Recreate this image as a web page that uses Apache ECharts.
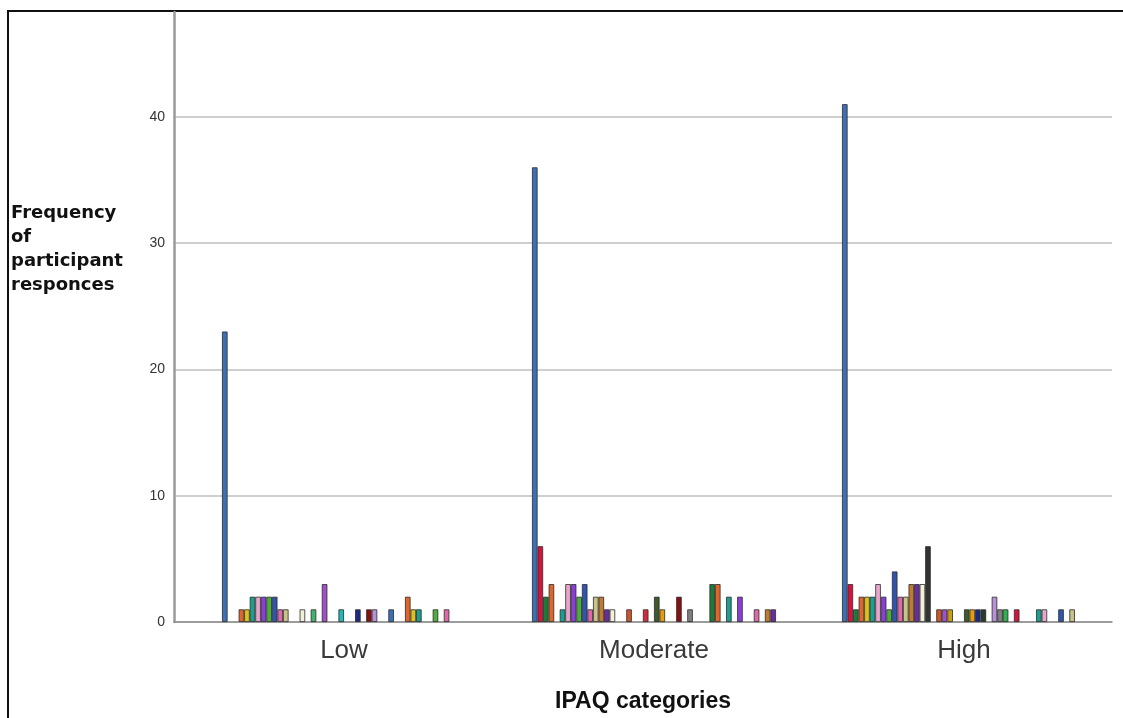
<!DOCTYPE html>
<html>
<head>
<meta charset="utf-8">
<script src="https://cdn.jsdelivr.net/npm/echarts@6/dist/echarts.min.js"></script>
<style>
  html, body { margin: 0; padding: 0; background: #fff; }
  #chart { width: 1123px; height: 718px; }
</style>
</head>
<body>
<div id="chart"></div>
<script>
// IPAQ categories on the x axis
const categories = ['Low', 'Moderate', 'High']

// one value per response series (44 series)
const lowCounts = [23, 0, 0, 1, 1, 2, 2, 2, 2, 2, 1, 1, 0, 0, 1, 0, 1, 0, 3, 0, 0, 1, 0, 0, 1, 0, 1, 1, 0, 0, 1, 0, 0, 2, 1, 1, 0, 0, 1, 0, 1, 0, 0, 0]
const moderateCounts = [36, 6, 2, 3, 0, 1, 3, 3, 2, 3, 1, 2, 2, 1, 1, 0, 0, 1, 0, 0, 1, 0, 2, 1, 0, 0, 2, 0, 1, 0, 0, 0, 3, 3, 0, 2, 0, 2, 0, 0, 1, 0, 1, 1]
const highCounts = [41, 3, 1, 2, 2, 2, 3, 2, 1, 4, 2, 2, 3, 3, 3, 6, 0, 1, 1, 1, 0, 0, 1, 1, 1, 1, 0, 2, 1, 1, 0, 1, 0, 0, 0, 1, 1, 0, 0, 1, 0, 1, 0, 0]

// y axis ticks
const yTicks = [0, 10, 20, 30, 40]

// colour cycle (repeats every 30 series)
const palette = [
  '#3d6fb6', '#d4143c', '#1f7a38', '#e0652a', '#dcc21a', '#1a9e8e',
  '#e8a6cc', '#8b3fd9', '#4caf3a', '#2f55b0', '#e06aa8', '#c9c28a',
  '#c27a2e', '#6b2d9e', '#f2f0d8', '#333333', '#3db56b', '#d0552a',
  '#a050c8', '#c8a010', '#d42a3a', '#20b8b8', '#3f5a2a', '#e89a10',
  '#1a2a80', '#2a3a2a', '#8a1010', '#b890d8', '#808080', '#30b050'
]

const chart = echarts.init(document.getElementById('chart'))

// 把每个序列的三个值组装起来
const series = lowCounts.map((v, i) => ({
  name: 'r' + (i + 1),
  type: 'bar',
  xAxisIndex: 1,
  yAxisIndex: 1,
  barGap: '0%',
  barCategoryGap: '21.3%',
  itemStyle: {
    color: palette[i % palette.length],
    borderColor: '#2b2b2b',
    borderWidth: 0.8
  },
  data: [v, moderateCounts[i], highCounts[i]].map((d) => (d === 0 ? '-' : d))
}))

const yMax = 48.3

const option = {
  animation: false,
  backgroundColor: '#fff',
  grid: [
    // axes frame
    { left: 174, right: 11, top: 12, bottom: 96, outerBoundsMode: 'none', containLabel: false },
    // bars
    { left: 189, right: 4, top: 12, bottom: 96, outerBoundsMode: 'none', containLabel: false }
  ],
  xAxis: [
    {
      gridIndex: 0,
      type: 'category',
      data: [''],
      axisLine: { show: true, lineStyle: { color: '#8c8c8c', width: 1.5 } },
      axisTick: { show: false },
      axisLabel: { show: false },
      name: 'IPAQ categories',
      nameLocation: 'middle',
      nameGap: 68,
      nameTextStyle: {
        fontFamily: 'Liberation Sans',
        fontSize: 23,
        fontWeight: 'bold',
        color: '#111'
      }
    },
    {
      gridIndex: 1,
      type: 'category',
      data: categories,
      axisLine: { show: false },
      axisTick: { show: false },
      axisLabel: {
        margin: 16,
        fontFamily: 'Liberation Sans',
        fontSize: 26,
        color: '#3a3a3a'
      }
    }
  ],
  yAxis: [
    {
      gridIndex: 0,
      type: 'value',
      min: yTicks[0],
      max: yMax,
      interval: 10,
      axisLine: { show: true, lineStyle: { color: '#9a9a9a', width: 2.5 } },
      axisTick: { show: false },
      axisLabel: {
        margin: 9,
        showMaxLabel: false,
        fontFamily: 'Liberation Sans',
        fontSize: 14,
        color: '#333'
      },
      splitLine: { show: true, showMaxLine: false, lineStyle: { color: '#cfcfcf', width: 2 } }
    },
    {
      gridIndex: 1,
      type: 'value',
      min: 0,
      max: yMax,
      show: false,
      splitLine: { show: false }
    }
  ],
  graphic: [
    {
      type: 'text',
      left: 11,
      top: 201,
      style: {
        text: 'Frequency\nof\nparticipant\nresponces',
        font: 'bold 18px "DejaVu Sans"',
        lineHeight: 24,
        fill: '#111'
      }
    },
    // outer frame (left and top)
    {
      type: 'polyline',
      shape: { points: [[8, 718], [8, 11], [1123, 11]] },
      style: { stroke: '#111', lineWidth: 2, fill: null }
    }
  ],
  series: series
}

chart.setOption(option)
</script>
</body>
</html>
